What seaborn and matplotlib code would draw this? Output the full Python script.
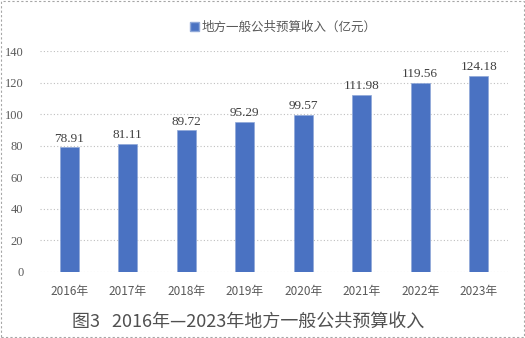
import matplotlib
matplotlib.use("Agg")
import matplotlib.pyplot as plt
import seaborn as sns
import pandas as pd
from matplotlib.patches import Rectangle, Patch

years = ["2016年", "2017年", "2018年", "2019年", "2020年", "2021年", "2022年", "2023年"]
values = [78.91, 81.11, 89.72, 95.29, 99.57, 111.98, 119.56, 124.18]
series_name = "地方一般公共预算收入（亿元）"
title = "图3   2016年—2023年地方一般公共预算收入"
yticks = [0, 20, 40, 60, 80, 100, 120, 140]

sns.set_theme(style="white")
plt.rcParams['font.family'] = ['Noto Sans CJK SC', 'DejaVu Sans']

df = pd.DataFrame({"year": years, "value": values})
bar_color = "#4A72C2"
gray = "#595959"

fig = plt.figure(figsize=(5.25, 3.38), dpi=100)
ax = fig.add_axes([40/525, 1 - 272/338, 468/525, 221/338])
sns.barplot(data=df, x="year", y="value", color=bar_color, width=0.33,
            saturation=1, ax=ax, edgecolor="#8FA8D8", linewidth=0.5, zorder=3)

ax.set_ylim(0, 140)
ax.set_yticks(yticks)
ax.set_xlim(-0.5, len(years) - 0.5)
ax.yaxis.grid(True, linestyle=(0, (1, 2)), color="#BFBFBF", linewidth=0.8, zorder=0)
ax.set_axisbelow(True)
for s in ax.spines.values():
    s.set_visible(False)
ax.set_xlabel("")
ax.set_ylabel("")
ax.tick_params(axis="both", length=0)
for lab in ax.get_yticklabels():
    lab.set_fontfamily("Liberation Serif")
    lab.set_fontsize(9)
    lab.set_color(gray)
ax.tick_params(axis="y", pad=12)
ax.tick_params(axis="x", pad=9)
for lab in ax.get_xticklabels():
    lab.set_fontsize(8.5)
    lab.set_color(gray)

for i, v in enumerate(values):
    ax.text(i, v + 1.8, f"{v:.2f}", ha="center", va="bottom",
            fontsize=9.5, family="Liberation Serif", color="#404040")

handle = Patch(facecolor=bar_color, edgecolor="#8FA8D8", label=series_name)
fig.legend(handles=[handle], loc="center", bbox_to_anchor=(283/525, 1 - 27/338),
           frameon=False, fontsize=9, handlelength=0.7, handleheight=0.7,
           handletextpad=0.2, labelcolor=gray)

fig.text(248/525, 1 - 322/338, title, ha="center", va="center", fontsize=13, color="#505050")

fig.patches.append(Rectangle((0.002, 0.003), 0.996, 0.994, transform=fig.transFigure,
                             fill=False, edgecolor="#A6A6A6", linestyle=(0, (2, 2)), linewidth=0.8))

fig.savefig("out.png", dpi=100)
